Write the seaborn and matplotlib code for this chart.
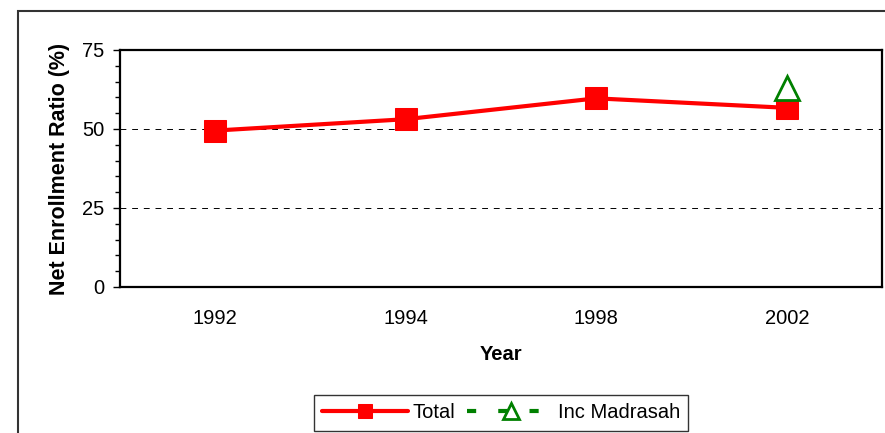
import matplotlib
matplotlib.use("Agg")
import matplotlib.pyplot as plt
from matplotlib.patches import Rectangle
from matplotlib.ticker import MultipleLocator, FixedLocator
import pandas as pd
import seaborn as sns

# data
years = ["1992", "1994", "1998", "2002"]
total = [49.5, 53.1, 59.7, 56.7]
madrasah_years = ["2002"]
madrasah = [63.0]

sns.set_style("white")
plt.rcParams["font.family"] = ["Liberation Sans", "DejaVu Sans"]
plt.rcParams["font.size"] = 14
for key in ["text.color", "axes.labelcolor", "xtick.color", "ytick.color"]:
    plt.rcParams[key] = "black"

df_total = pd.DataFrame({"Year": years, "ratio": total})
df_madrasah = pd.DataFrame({"Year": madrasah_years, "ratio": madrasah})

fig = plt.figure(figsize=(8.85, 4.33), dpi=100)
ax = fig.add_axes([120 / 885, 1 - 287 / 433, 762 / 885, 237 / 433])

# outer chart frame (runs off the right and bottom edges)
fig.patches.append(Rectangle((18 / 885, -0.1), 1.2, 1 - 11 / 433 + 0.1,
                             transform=fig.transFigure, fill=False,
                             edgecolor="#333333", linewidth=1.5))

sns.lineplot(data=df_total, x="Year", y="ratio", ax=ax, sort=False,
             color="#ff0000", linewidth=3, marker="s", markersize=16.5,
             markeredgecolor="#ff0000", label="Total")
sns.lineplot(data=df_madrasah, x="Year", y="ratio", ax=ax, sort=False,
             color="#008000", linewidth=3, linestyle=(0, (2.2, 5.3)),
             marker="^", markersize=17, markerfacecolor="white",
             markeredgecolor="#008000", markeredgewidth=2,
             label="Inc Madrasah")

ax.set_xlim(-0.5, len(years) - 0.5)
ax.set_ylim(0, 75)
ax.yaxis.set_major_locator(MultipleLocator(25))
ax.yaxis.set_minor_locator(MultipleLocator(5))
ax.xaxis.set_minor_locator(FixedLocator([i - 0.5 for i in range(len(years) + 1)]))
ax.tick_params(axis="x", which="major", length=0, pad=16, labelsize=14.5)
ax.tick_params(axis="x", which="minor", length=5, width=1, direction="out", color="black")
ax.tick_params(axis="y", which="major", length=5, width=1, direction="out", pad=6,
               labelsize=14.5, color="black", left=True)
ax.tick_params(axis="y", which="minor", length=3.5, width=1, direction="out",
               color="black", left=True)

for y in [25, 50]:
    ax.axhline(y, color="black", linewidth=0.7, linestyle=(0, (6, 6)), zorder=0)

for side in ["left", "right", "top", "bottom"]:
    ax.spines[side].set_visible(True)
    ax.spines[side].set_color("black")
    ax.spines[side].set_linewidth(1.6)

ax.set_xlabel("Year", fontsize=14.5, fontweight="bold", labelpad=12)
ax.set_ylabel("Net Enrollment Ratio (%)", fontsize=15.5, fontweight="bold", labelpad=9)

handles, labels = ax.get_legend_handles_labels()
ax.get_legend().remove()
leg = fig.legend(handles, labels, loc="center", bbox_to_anchor=(501 / 885, 1 - 413 / 433),
                 ncol=2, fontsize=14.5, frameon=True, fancybox=False, handlelength=4.3,
                 handletextpad=0.2, columnspacing=0.6, borderpad=0.4, markerscale=0.65)
leg.get_frame().set_edgecolor("black")
leg.get_frame().set_linewidth(1.0)

fig.savefig("out.png", dpi=100)
